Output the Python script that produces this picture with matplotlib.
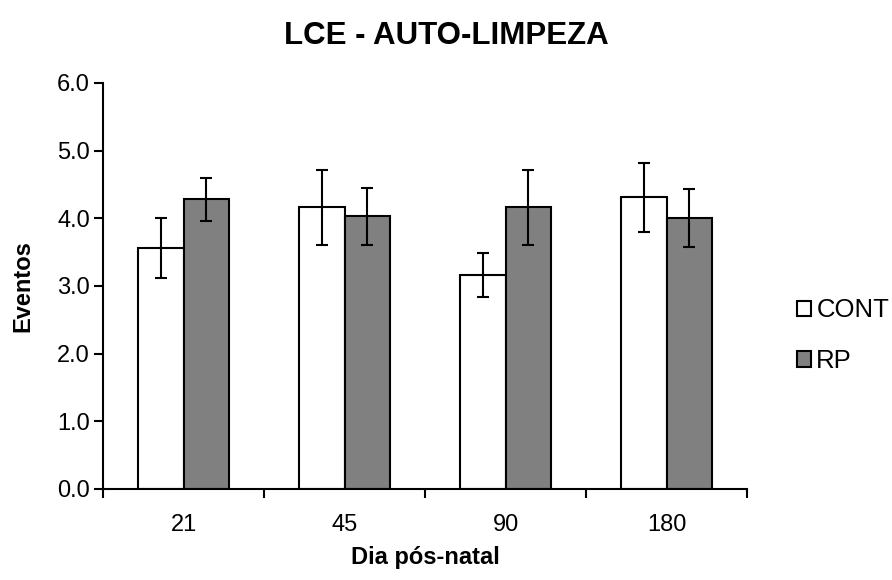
import numpy as np
import matplotlib
matplotlib.use('Agg')
import matplotlib.pyplot as plt

plt.rcParams['font.family'] = ['Liberation Sans', 'DejaVu Sans']

# data
dias = ['21', '45', '90', '180']
cont_mean = [3.56, 4.16, 3.16, 4.31]
cont_err = [0.45, 0.55, 0.32, 0.51]
rp_mean = [4.28, 4.03, 4.16, 4.00]
rp_err = [0.32, 0.42, 0.55, 0.43]

fs = 17

fig = plt.figure(figsize=(8.92, 5.80), dpi=100)
ax = fig.add_axes([0.1155, 0.157, 0.722, 0.700])

x = np.arange(len(dias))
w = 0.28
err_kw = dict(ecolor='black', elinewidth=1.5, capsize=4.5, capthick=1.5)

ax.bar(x - w/2, cont_mean, w, yerr=cont_err, color='white', edgecolor='black',
       linewidth=1.5, label='CONT', error_kw=err_kw)
ax.bar(x + w/2, rp_mean, w, yerr=rp_err, color='#808080', edgecolor='black',
       linewidth=1.5, label='RP', error_kw=err_kw)

ax.set_ylim(0, 6)
ax.set_xlim(-0.5, len(dias) - 0.5)
ax.set_yticks(np.arange(0, 6.1, 1.0))
ax.set_yticklabels(['%.1f' % v for v in np.arange(0, 6.1, 1.0)], fontsize=fs)

# ticks between categories, labels in the middle
ax.set_xticks(np.arange(-0.5, len(dias), 1.0))
ax.set_xticklabels([])
ax.set_xticks(x, minor=True)
ax.set_xticklabels(dias, minor=True, fontsize=fs)
ax.tick_params(axis='x', which='minor', length=0, pad=18)
ax.tick_params(axis='both', which='major', direction='out', length=6.5, width=1.5)
ax.tick_params(axis='y', pad=3)

for s in ['top', 'right']:
    ax.spines[s].set_visible(False)
for s in ['left', 'bottom']:
    ax.spines[s].set_linewidth(1.5)

ax.set_ylabel('Eventos', fontsize=fs, fontweight='bold', labelpad=16)
ax.set_xlabel('Dia pós-natal', fontsize=fs, fontweight='bold', labelpad=7)
fig.text(0.5, 0.938, 'LCE - AUTO-LIMPEZA', ha='center', va='center',
         fontsize=22.5, fontweight='bold')

ax.legend(loc='center left', bbox_to_anchor=(0.8935, 0.421), bbox_transform=fig.transFigure,
          frameon=False, fontsize=18.5, handlelength=0.55, handleheight=0.55,
          handletextpad=0.2, labelspacing=1.05, borderpad=0, borderaxespad=0)

fig.savefig('out.png', dpi=100)
